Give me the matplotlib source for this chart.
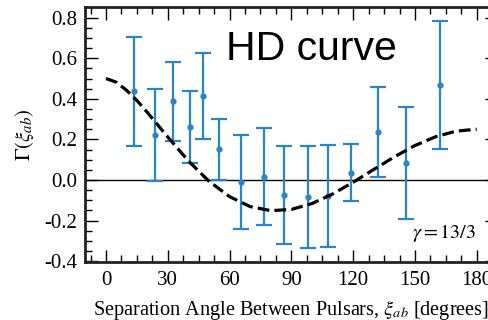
import matplotlib
matplotlib.use("Agg")
import matplotlib.pyplot as plt
from matplotlib.ticker import MultipleLocator

plt.rcParams["font.family"] = ["Liberation Serif", "DejaVu Serif"]
plt.rcParams["mathtext.fontset"] = "stix"

# binned cross-correlations
angle = [13.5, 23.7, 32.7, 41.0, 47.0, 55.0, 65.6, 76.5, 86.6, 98.0, 107.7, 118.8, 132.0, 145.5, 162.0]
gamma = [0.437, 0.221, 0.388, 0.260, 0.413, 0.152, -0.008, 0.017, -0.074, -0.085, -0.080, 0.035, 0.236, 0.083, 0.470]
err = [0.268, 0.226, 0.195, 0.177, 0.212, 0.150, 0.232, 0.240, 0.243, 0.252, 0.252, 0.140, 0.220, 0.277, 0.315]

# HD curve
hd_angle = [0, 5, 10, 15, 20, 25, 30, 40, 50, 60, 70, 80, 90, 100, 110, 120, 130, 140, 150, 160, 170, 180]
hd_value = [0.500, 0.482, 0.442, 0.392, 0.334, 0.273, 0.212, 0.094, -0.006, -0.082, -0.131, -0.151,
            -0.145, -0.116, -0.069, -0.011, 0.052, 0.114, 0.170, 0.213, 0.241, 0.250]

xticks = [0, 30, 60, 90, 120, 150, 180]
yticks = [-0.4, -0.2, 0.0, 0.2, 0.4, 0.6, 0.8]

fig = plt.figure(figsize=(4.89, 3.2), dpi=100)
ax = fig.add_axes([0.1746, 0.1806, 0.8425, 0.796])

ax.axhline(0.0, color="black", lw=1.0, zorder=1)
ax.errorbar(angle, gamma, yerr=err, fmt="o", ms=3.5, color="#2a84c8",
            elinewidth=1.6, capsize=5.5, capthick=1.6, zorder=2)
ax.plot(hd_angle, hd_value, "--", color="black", lw=2.3, zorder=3)

ax.set_xlim(-10, 190)
ax.set_ylim(-0.405, 0.85)
ax.set_xticks(xticks)
ax.set_yticks(yticks)
ax.set_yticklabels([f"{v:.1f}" for v in yticks])
ax.xaxis.set_minor_locator(MultipleLocator(7.5))
ax.yaxis.set_minor_locator(MultipleLocator(0.05))
ax.tick_params(which="both", direction="in", top=True, right=True, labelsize=15, width=1.0)
ax.tick_params(which="major", length=9, pad=6)
ax.tick_params(which="minor", length=5)
for s in ax.spines.values():
    s.set_linewidth(2.0)
    s.set_color("#222222")

# the reference is cropped on the right, so the label runs to the edge
ax.set_xlabel(r"Separation Angle Between Pulsars, $\xi_{ab}$ [degrees]", fontsize=14.6, labelpad=6)
ax.set_ylabel(r"$\Gamma(\xi_{ab})$", fontsize=15, labelpad=6)

ax.text(58.3, 0.59, "HD curve", family="Liberation Sans", fontsize=29.5, ha="left", va="baseline")
ax.text(148.5, -0.286, r"$\gamma = 13/3$", fontsize=14.5, ha="left", va="baseline")

fig.savefig("out.png", dpi=100)
